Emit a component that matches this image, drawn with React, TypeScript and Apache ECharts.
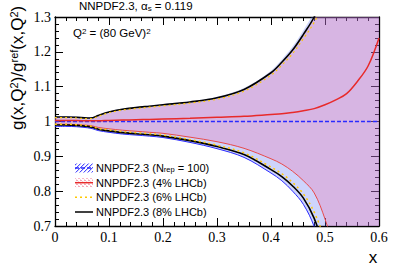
import React, { useEffect, useRef } from 'react';
import * as echarts from 'echarts';

const xValues = [0, 0.02, 0.04, 0.06, 0.07, 0.08, 0.1, 0.125, 0.15, 0.175, 0.2, 0.25, 0.3, 0.35, 0.4, 0.42, 0.44, 0.46, 0.48, 0.5, 0.52, 0.54, 0.56, 0.58, 0.6];

// NNPDF2.3 (Nrep = 100) band
const nnpdfLower = [0.986, 0.986, 0.985, 0.982, 0.979, 0.974, 0.969, 0.964, 0.961, 0.958, 0.954, 0.94, 0.922, 0.897, 0.852, 0.83, 0.8, 0.762, 0.698, 0.59, 0.48, 0.37, 0.26, 0.15, 0.05];
const nnpdfUpper = [1.015, 1.015, 1.014, 1.012, 1.013, 1.019, 1.029, 1.037, 1.042, 1.046, 1.05, 1.058, 1.071, 1.096, 1.146, 1.178, 1.215, 1.262, 1.315, 1.39, 1.47, 1.57, 1.69, 1.82, 1.97];
const nnpdfCentral = [1, 1, 1, 1, 1, 1, 1, 1, 1, 1, 1, 1, 1, 1, 1, 1, 1, 1, 1, 1, 1, 1, 1, 1, 1];

// 4% LHCb
const lhcb4Lower = [0.992, 0.992, 0.991, 0.989, 0.987, 0.983, 0.979, 0.975, 0.972, 0.969, 0.966, 0.955, 0.942, 0.923, 0.893, 0.878, 0.857, 0.83, 0.795, 0.72, 0.62, 0.5, 0.38, 0.25, 0.1];
const lhcb4Upper = [1.01, 1.01, 1.009, 1.007, 1.008, 1.014, 1.024, 1.032, 1.037, 1.041, 1.045, 1.053, 1.065, 1.089, 1.137, 1.167, 1.202, 1.247, 1.297, 1.367, 1.447, 1.547, 1.667, 1.797, 1.947];
const lhcb4Central = [1.003, 1.003, 1.003, 1.002, 1.002, 1.002, 1.003, 1.004, 1.005, 1.006, 1.007, 1.009, 1.012, 1.015, 1.02, 1.022, 1.026, 1.031, 1.037, 1.048, 1.062, 1.08, 1.115, 1.16, 1.24];

// 6% LHCb
const lhcb6Lower = [0.992, 0.992, 0.991, 0.988, 0.985, 0.98, 0.976, 0.971, 0.968, 0.965, 0.961, 0.948, 0.932, 0.91, 0.869, 0.85, 0.825, 0.792, 0.74, 0.66, 0.57, 0.46, 0.35, 0.24, 0.13];
const lhcb6Upper = [1.011, 1.011, 1.01, 1.008, 1.009, 1.015, 1.025, 1.033, 1.037, 1.041, 1.045, 1.053, 1.064, 1.087, 1.133, 1.162, 1.195, 1.238, 1.285, 1.35, 1.43, 1.53, 1.65, 1.78, 1.93];

// 8% LHCb
const lhcb8Lower = [0.99, 0.99, 0.989, 0.986, 0.983, 0.978, 0.973, 0.968, 0.965, 0.962, 0.958, 0.945, 0.928, 0.905, 0.862, 0.842, 0.815, 0.78, 0.722, 0.63, 0.53, 0.42, 0.31, 0.2, 0.1];
const lhcb8Upper = [1.013, 1.013, 1.012, 1.01, 1.011, 1.017, 1.027, 1.035, 1.04, 1.044, 1.048, 1.056, 1.068, 1.092, 1.14, 1.17, 1.205, 1.25, 1.3, 1.37, 1.45, 1.55, 1.67, 1.8, 1.95];

const legendLabels = ['NNPDF2.3 (N', 'NNPDF2.3 (4% LHCb)', 'NNPDF2.3 (6% LHCb)', 'NNPDF2.3 (8% LHCb)'];

const SANS = 'Liberation Sans, Arial, sans-serif';
const SERIF = 'Liberation Serif, Times New Roman, serif';

function makeCanvas(w: number, h: number, draw: (ctx: CanvasRenderingContext2D) => void) {
  const c = document.createElement('canvas');
  c.width = w;
  c.height = h;
  const ctx = c.getContext('2d')!;
  draw(ctx);
  return c;
}

export default function App() {
  const ref = useRef<HTMLDivElement>(null);
  useEffect(() => {
    const chart = echarts.init(ref.current!, null, { renderer: 'svg' });

    const blueCanvas = makeCanvas(4, 4, (ctx) => {
      ctx.fillStyle = 'rgba(60,60,255,0.9)';
      for (let i = 0; i < 4; i++) ctx.fillRect(i, 3 - i, 1, 1);
      ctx.fillStyle = 'rgba(120,120,255,0.35)';
      for (let i = 0; i < 4; i++) ctx.fillRect(i, (4 - i) % 4, 1, 1);
    });
    const redCanvas = makeCanvas(4, 4, (ctx) => {
      ctx.fillStyle = 'rgba(240,110,140,0.6)';
      ctx.fillRect(0, 0, 2, 1);
      ctx.fillRect(2, 2, 2, 1);
      ctx.fillStyle = 'rgba(240,130,160,0.35)';
      ctx.fillRect(2, 1, 1, 1);
      ctx.fillRect(0, 3, 1, 1);
    });
    const bluePat: any = { image: blueCanvas.toDataURL(), repeat: 'repeat', imageWidth: 4, imageHeight: 4 };
    const redPat: any = { image: redCanvas.toDataURL(), repeat: 'repeat', imageWidth: 4, imageHeight: 4 };

    // data given as [y, x] with encode swapped so that stacking applies to y
    const pts = (ys: number[]) => xValues.map((x, i) => [ys[i], x]);
    const diff = (hi: number[], lo: number[]) => xValues.map((x, i) => [hi[i] - lo[i], x]);
    const base: any = {
      type: 'line', symbol: 'none', smooth: 0.35, silent: true, clip: true,
      xAxisIndex: 0, yAxisIndex: 0, encode: { x: 1, y: 0 },
    };
    const hidden = { opacity: 0, width: 0 };

    const axisCommon: any = {
      axisLine: { show: true, onZero: false, lineStyle: { color: '#000', width: 1.3 } },
      axisTick: { show: true, inside: true, length: 8, lineStyle: { color: '#000', width: 1 } },
      minorTick: { show: true, splitNumber: 5, length: 4, lineStyle: { color: '#000', width: 1 } },
      splitLine: { show: false },
      minorSplitLine: { show: false },
    };
    const fmt = (v: number) => String(parseFloat(v.toFixed(2)));

    const sup = { fontSize: 9, verticalAlign: 'top', fontFamily: SANS, fill: '#000', color: '#000' };
    const legendY = [168, 182.7, 197.3, 212];

    chart.setOption({
      animation: false,
      grid: { left: 55, right: 20, top: 17, bottom: 44 },
      xAxis: [
        {
          type: 'value', min: 0, max: 0.6, interval: 0.1, position: 'bottom', ...axisCommon,
          axisLabel: { color: '#000', fontFamily: SERIF, fontSize: 14, margin: 4, formatter: fmt },
        },
        {
          type: 'value', min: 0, max: 0.6, interval: 0.1, position: 'top', ...axisCommon,
          axisLabel: { show: false },
        },
      ],
      yAxis: [
        {
          type: 'value', min: 0.7, max: 1.3, interval: 0.1, position: 'left', ...axisCommon,
          axisLabel: { color: '#000', fontFamily: SERIF, fontSize: 14, margin: 4, formatter: fmt },
        },
        {
          type: 'value', min: 0.7, max: 1.3, interval: 0.1, position: 'right', ...axisCommon,
          axisLabel: { show: false },
        },
      ],
      series: [
        { ...base, name: 'nnpdfLowBase', data: pts(nnpdfLower), stack: 'nnpdf', lineStyle: hidden },
        { ...base, name: 'nnpdfBand', data: diff(nnpdfUpper, nnpdfLower), stack: 'nnpdf', lineStyle: hidden, areaStyle: { color: 'rgb(80,100,245)', opacity: 0.28 } },
        { ...base, name: 'lhcb4LowBase', data: pts(lhcb4Lower), stack: 'lhcb4', lineStyle: hidden },
        { ...base, name: 'lhcb4Band', data: diff(lhcb4Upper, lhcb4Lower), stack: 'lhcb4', lineStyle: hidden, areaStyle: { color: 'rgb(235,110,170)', opacity: 0.3 } },
        { ...base, name: 'nnpdfLowerLine', data: pts(nnpdfLower), lineStyle: { color: '#2a2aff', width: 1 } },
        { ...base, name: 'lhcb4LowerLine', data: pts(lhcb4Lower), lineStyle: { color: '#e84a4a', width: 1 } },
        { ...base, name: 'lhcb8Lower', data: pts(lhcb8Lower), lineStyle: { color: '#000', width: 1.6 } },
        { ...base, name: 'lhcb8Upper', data: pts(lhcb8Upper), lineStyle: { color: '#000', width: 1.6 } },
        { ...base, name: 'lhcb6Lower', data: pts(lhcb6Lower), lineStyle: { color: '#ffc800', width: 1.5, type: [2, 3] } },
        { ...base, name: 'lhcb6Upper', data: pts(lhcb6Upper), lineStyle: { color: '#ffc800', width: 1.2, type: [2, 3] } },
        { ...base, name: 'nnpdfCentral', data: pts(nnpdfCentral), lineStyle: { color: '#2a2aff', width: 1.5, type: [4, 2] } },
        { ...base, name: 'lhcb4Central', data: pts(lhcb4Central), lineStyle: { color: '#e82a2a', width: 1.5 } },
      ],
      graphic: [
        {
          type: 'text', x: 79, y: 6,
          style: {
            text: '{a|NNPDF2.3, α}{s|s}{a| = 0.119}',
            textVerticalAlign: 'middle', verticalAlign: 'middle',
            rich: {
              a: { fontSize: 11.5, fontFamily: SANS, fill: '#000', color: '#000' },
              s: { fontSize: 8, fontFamily: SANS, verticalAlign: 'bottom', fill: '#000', color: '#000' },
            },
          },
        },
        {
          type: 'text', x: 73, y: 33,
          style: {
            text: '{a|Q}{p|2}{a| = (80 GeV)}{p|2}',
            textVerticalAlign: 'middle', verticalAlign: 'middle',
            rich: {
              a: { fontSize: 11.5, fontFamily: SANS, fill: '#000', color: '#000' },
              p: { ...sup, fontSize: 8 },
            },
          },
        },
        {
          type: 'text', x: 17, y: 130, rotation: Math.PI / 2,
          style: {
            text: '{a|g(x,Q}{p|2}{a|)/g}{p|ref}{a|(x,Q}{p|2}{a|)}',
            textAlign: 'left', align: 'left', textVerticalAlign: 'middle', verticalAlign: 'middle',
            rich: {
              a: { fontSize: 17, fontFamily: SANS, fill: '#000', color: '#000' },
              p: { ...sup, fontSize: 11 },
            },
          },
        },
        {
          type: 'text', x: 373, y: 257,
          style: { text: 'x', fontSize: 17, fontFamily: SANS, fill: '#000', textAlign: 'center', align: 'center', textVerticalAlign: 'middle', verticalAlign: 'middle' },
        },
        // legend symbols
        { type: 'rect', shape: { x: 75, y: legendY[0] - 4.5, width: 18, height: 9 }, style: { fill: bluePat, stroke: 'none' } },
        { type: 'line', shape: { x1: 75, y1: legendY[0], x2: 93, y2: legendY[0] }, style: { stroke: '#2a2aff', lineWidth: 1.5, lineDash: [4, 2] } },
        { type: 'rect', shape: { x: 75, y: legendY[1] - 4.5, width: 18, height: 9 }, style: { fill: redPat, stroke: 'none' } },
        { type: 'line', shape: { x1: 75, y1: legendY[1], x2: 93, y2: legendY[1] }, style: { stroke: '#e82a2a', lineWidth: 1.5 } },
        { type: 'line', shape: { x1: 75, y1: legendY[2], x2: 93, y2: legendY[2] }, style: { stroke: '#ffc800', lineWidth: 1.5, lineDash: [2, 3] } },
        { type: 'line', shape: { x1: 75, y1: legendY[3], x2: 93, y2: legendY[3] }, style: { stroke: '#000', lineWidth: 1.5 } },
        {
          type: 'text', x: 96, y: legendY[0],
          style: {
            text: '{a|' + legendLabels[0] + '}{s|rep}{a| = 100)}',
            textVerticalAlign: 'middle', verticalAlign: 'middle',
            rich: {
              a: { fontSize: 11, fontFamily: SANS, fill: '#000', color: '#000' },
              s: { fontSize: 7.5, fontFamily: SANS, verticalAlign: 'bottom', fill: '#000', color: '#000' },
            },
          },
        },
        ...[1, 2, 3].map((i) => ({
          type: 'text', x: 96, y: legendY[i],
          style: { text: legendLabels[i], fontSize: 11, fontFamily: SANS, fill: '#000', textVerticalAlign: 'middle', verticalAlign: 'middle' },
        })),
      ],
    });
    return () => chart.dispose();
  }, []);
  return <div ref={ref} style={{ position: 'absolute', left: 0, top: 0, width: 399, height: 270 }} />;
}
